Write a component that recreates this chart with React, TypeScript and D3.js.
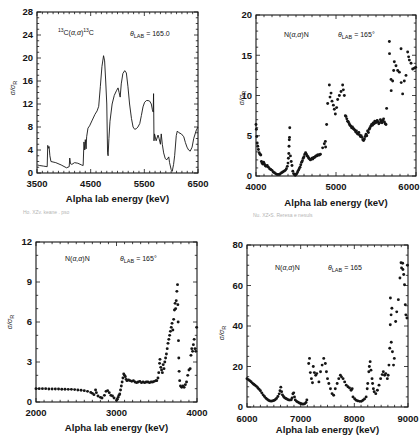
import React from "react";
import * as d3 from "d3";

// ---- Panel 1: 13C(a,a)13C, line ----
const c13Energy = [3510, 3550, 3620, 3690, 3700, 3715, 3725, 3740, 3760, 3850, 3950, 4050, 4100, 4110, 4125, 4150, 4200, 4260, 4330, 4360, 4375, 4390, 4400, 4415, 4425, 4450, 4480, 4530, 4580, 4620, 4650, 4680, 4710, 4740, 4760, 4780, 4800, 4815, 4825, 4840, 4860, 4900, 4940, 4980, 5010, 5030, 5050, 5070, 5100, 5135, 5165, 5195, 5225, 5260, 5290, 5320, 5350, 5380, 5415, 5445, 5475, 5505, 5540, 5570, 5600, 5630, 5650, 5665, 5672, 5680, 5690, 5720, 5755, 5775, 5800, 5815, 5835, 5860, 5890, 5920, 5955, 5970, 6000, 6020, 6045, 6065, 6095, 6115, 6145, 6190, 6235, 6265, 6295, 6325, 6355, 6390, 6420, 6470, 6500];
const c13Ratio = [1.4, 1.3, 1.2, 1.1, 4.8, 4.3, 4.6, 3.0, 2.0, 1.8, 1.4, 0.9, 1.1, 2.6, 1.6, 1.5, 1.8, 1.7, 1.4, 1.3, 5.4, 4.0, 5.8, 4.2, 6.3, 7.8, 8.2, 9.2, 10.2, 10.8, 11.6, 15.0, 18.5, 20.4, 19.5, 16.0, 12.0, 3.5, 3.0, 6.0, 9.0, 12.0, 13.5, 14.3, 14.8, 14.0, 13.2, 15.5, 17.3, 17.8, 17.4, 15.0, 12.0, 9.5, 8.0, 7.6, 7.7, 8.0, 8.6, 10.0, 11.5, 12.3, 12.6, 12.6, 12.5, 12.0, 11.0, 10.6, 13.8, 5.6, 6.8, 5.6, 6.6, 6.0, 5.0, 6.8, 5.0, 3.5, 2.5, 2.3, 2.8, 1.8, 0.6, 0.3, 1.5, 3.0, 6.5, 7.3, 7.0, 6.8, 6.3, 5.3, 4.5, 4.0, 3.8, 4.5, 6.0, 7.5, 8.0];

// ---- Panel 2: N(a,a)N 4000-6000 keV ----
const nHighEnergy = [4000, 4005, 4010, 4015, 4022, 4030, 4040, 4050, 4060, 4068, 4075, 4085, 4095, 4105, 4115, 4125, 4140, 4155, 4170, 4185, 4200, 4215, 4230, 4245, 4260, 4275, 4290, 4305, 4320, 4335, 4350, 4365, 4380, 4392, 4400, 4405, 4410, 4413, 4416, 4419, 4422, 4430, 4440, 4450, 4460, 4470, 4480, 4490, 4500, 4510, 4520, 4530, 4540, 4550, 4560, 4570, 4580, 4590, 4600, 4610, 4620, 4630, 4640, 4650, 4660, 4670, 4680, 4690, 4700, 4710, 4720, 4730, 4740, 4750, 4760, 4770, 4780, 4792, 4805, 4833, 4854, 4867, 4870, 4883, 4896, 4917, 4925, 4938, 4950, 4967, 4979, 4992, 5008, 5021, 5042, 5063, 5083, 5092, 5104, 5117, 5125, 5135, 5145, 5155, 5165, 5175, 5185, 5195, 5205, 5215, 5225, 5235, 5245, 5255, 5265, 5275, 5285, 5295, 5305, 5315, 5325, 5335, 5345, 5355, 5365, 5375, 5385, 5395, 5405, 5415, 5425, 5435, 5445, 5455, 5465, 5475, 5485, 5495, 5505, 5515, 5525, 5535, 5545, 5555, 5565, 5575, 5585, 5595, 5605, 5615, 5625, 5633, 5667, 5669, 5688, 5690, 5708, 5721, 5729, 5750, 5771, 5792, 5813, 5815, 5833, 5854, 5875, 5896, 5908, 5917, 5938, 5958, 5979, 5995];
const nHighRatio = [6.4, 5.8, 4.9, 4.1, 3.7, 3.3, 2.9, 2.7, 2.6, 1.8, 1.6, 1.5, 1.7, 1.5, 1.3, 1.2, 1.3, 1.1, 0.9, 0.8, 0.7, 0.5, 0.4, 0.3, 0.2, 0.2, 0.2, 0.3, 0.4, 0.5, 0.6, 0.7, 0.9, 1.2, 1.6, 2.2, 2.8, 3.7, 4.5, 4.8, 6.0, 2.5, 1.8, 1.3, 0.6, 0.3, 0.2, 0.1, 0.2, 0.3, 0.5, 0.7, 0.9, 1.1, 1.4, 1.7, 1.9, 2.2, 2.4, 2.7, 2.9, 2.7, 2.5, 2.4, 2.2, 2.1, 2.0, 2.1, 2.2, 2.1, 2.3, 2.3, 2.4, 2.5, 2.5, 2.6, 2.6, 2.6, 2.7, 3.5, 4.0, 4.3, 3.6, 6.4, 9.0, 11.3, 9.8, 10.3, 9.3, 8.8, 8.3, 7.7, 8.5, 9.5, 10.0, 10.5, 11.3, 10.7, 10.0, 7.5, 7.4, 7.1, 6.8, 6.7, 6.5, 6.3, 6.2, 6.0, 6.1, 5.9, 5.8, 5.7, 5.5, 5.6, 5.3, 5.2, 5.4, 5.1, 4.9, 5.0, 4.8, 4.5, 4.4, 4.6, 4.9, 5.2, 5.0, 5.6, 5.4, 5.8, 6.0, 6.2, 6.4, 6.3, 6.6, 6.5, 6.8, 6.6, 6.7, 6.9, 6.7, 6.5, 6.6, 7.0, 6.8, 6.6, 6.9, 7.1, 6.7, 6.5, 6.4, 8.4, 16.7, 15.2, 12.0, 10.6, 11.8, 13.1, 14.2, 13.7, 13.1, 12.9, 15.8, 11.6, 10.2, 11.8, 12.5, 15.4, 14.8, 14.4, 14.0, 13.3, 13.4, 13.5];

// ---- Panel 3: N(a,a)N 2000-4000 keV ----
const nLowEnergy = [2000, 2040, 2080, 2120, 2160, 2200, 2240, 2280, 2320, 2360, 2400, 2440, 2480, 2520, 2560, 2600, 2640, 2680, 2700, 2720, 2740, 2750, 2770, 2800, 2820, 2850, 2870, 2890, 2910, 2930, 2950, 2970, 3000, 3010, 3020, 3030, 3040, 3050, 3060, 3070, 3080, 3090, 3100, 3110, 3120, 3130, 3150, 3170, 3190, 3210, 3230, 3250, 3270, 3290, 3310, 3330, 3350, 3370, 3390, 3410, 3430, 3450, 3470, 3490, 3500, 3515, 3525, 3535, 3540, 3550, 3560, 3570, 3580, 3590, 3600, 3610, 3620, 3630, 3640, 3650, 3660, 3670, 3680, 3690, 3700, 3710, 3720, 3728, 3735, 3742, 3750, 3758, 3762, 3766, 3770, 3774, 3778, 3785, 3795, 3810, 3825, 3840, 3855, 3870, 3885, 3900, 3915, 3925, 3935, 3945, 3955, 3965, 3975, 3985, 3995];
const nLowRatio = [1.0, 1.0, 1.0, 1.0, 0.98, 0.98, 0.97, 0.97, 0.96, 0.96, 0.95, 0.95, 0.93, 0.9, 0.88, 0.85, 0.8, 0.72, 0.65, 0.55, 0.9, 0.7, 0.45, 0.35, 0.3, 0.5, 0.8, 0.85, 0.7, 0.5, 0.45, 0.3, 0.12, 0.2, 0.35, 0.5, 0.6, 0.9, 1.2, 1.5, 1.8, 2.1, 2.0, 1.9, 1.7, 1.6, 1.65, 1.6, 1.55, 1.6, 1.5, 1.45, 1.5, 1.55, 1.45, 1.5, 1.45, 1.5, 1.5, 1.45, 1.5, 1.5, 1.55, 1.6, 1.6, 1.8, 2.2, 2.9, 3.2, 2.6, 2.4, 2.2, 2.8, 2.5, 3.0, 3.3, 3.6, 4.0, 4.4, 4.7, 5.0, 5.3, 5.6, 5.9, 5.4, 6.2, 6.9, 7.4, 7.0, 7.6, 8.3, 8.8, 7.3, 6.0, 4.6, 3.3, 2.3, 1.6, 1.2, 1.1, 1.2, 1.1, 1.3, 1.5, 2.0, 2.4, 2.5, 3.5, 4.0, 3.8, 4.3, 4.7, 4.0, 3.8, 5.6];

// ---- Panel 4: N(a,a)N 6000-9000 keV ----
const nTopEnergy = [6000, 6025, 6050, 6075, 6100, 6125, 6150, 6175, 6200, 6225, 6250, 6275, 6300, 6325, 6350, 6375, 6400, 6425, 6450, 6475, 6500, 6525, 6550, 6575, 6600, 6615, 6630, 6645, 6660, 6680, 6700, 6725, 6750, 6775, 6800, 6825, 6840, 6855, 6870, 6885, 6900, 6925, 6950, 6975, 7000, 7025, 7050, 7075, 7100, 7115, 7150, 7165, 7180, 7200, 7220, 7235, 7255, 7280, 7300, 7340, 7370, 7400, 7430, 7460, 7480, 7500, 7525, 7555, 7585, 7615, 7645, 7680, 7710, 7740, 7760, 7790, 7820, 7850, 7880, 7910, 7940, 7960, 7975, 8005, 8035, 8065, 8100, 8130, 8160, 8190, 8220, 8240, 8250, 8270, 8280, 8295, 8310, 8330, 8340, 8355, 8370, 8400, 8430, 8460, 8490, 8520, 8540, 8565, 8585, 8615, 8630, 8645, 8660, 8670, 8685, 8700, 8672, 8688, 8710, 8730, 8745, 8770, 8790, 8820, 8850, 8880, 8870, 8905, 8900, 8920, 8935, 8950, 8960, 8980, 8990];
const nTopRatio = [14, 13.5, 13, 12.5, 11.8, 11.2, 10.8, 10.2, 9.5, 8.8, 8.0, 7.0, 6.0, 5.2, 4.4, 3.8, 3.3, 3.0, 2.9, 3.0, 3.2, 3.6, 4.2, 5.2, 6.5, 8.0, 9.8, 7.5, 6.0, 5.2, 4.6, 4.2, 3.8, 3.5, 3.4, 3.6, 4.5, 6.5, 7.0, 5.0, 3.5, 2.8, 2.4, 2.0, 1.7, 1.5, 1.4, 1.6, 2.2, 3.5, 21.5, 24, 17, 14, 12, 20, 17, 15.7, 16.5, 12.4, 17.4, 20.7, 24, 21.5, 17.4, 14, 11.6, 9, 6.6, 5.8, 9, 11.6, 14, 15.7, 14.9, 14, 12.4, 10.8, 10, 9.4, 8.3, 9, 5, 4.1, 3.3, 3.0, 2.8, 2.8, 3.3, 4, 5, 9, 11.6, 17.4, 20, 22.4, 18.2, 14, 11.6, 9, 7.5, 6.6, 8.3, 10.8, 14, 16, 17.4, 15.7, 16.5, 14, 15.7, 20.7, 29, 40.6, 45.5, 48.8, 53.8, 32, 27.3, 20.7, 24, 42.2, 47, 53, 63.7, 68.7, 71.2, 67.9, 71, 65.4, 60.4, 50.5, 45.5, 43.9, 70];

const p1XTicks = [3500, 4500, 5500, 6500];
const p1YTicks = [0, 4, 8, 12, 16, 20, 24, 28];
const p2XTicks = [4000, 5000, 6000];
const p2YTicks = [0, 5, 10, 15, 20];
const p3XTicks = [2000, 3000, 4000];
const p3YTicks = [0, 3, 6, 9, 12];
const p4XTicks = [6000, 7000, 8000, 9000];
const p4YTicks = [0, 20, 40, 60, 80];

const INK = "#151515";
const FONT = "'Liberation Sans', Arial, Helvetica, sans-serif";
const PAGE_W = 420;

type Box = { left: number; right: number; top: number; bottom: number };

function Reaction({ kind }: { kind: "C" | "N" }) {
  if (kind === "C") {
    return (
      <>
        <tspan fontSize={5} dy={-3}>13</tspan>
        <tspan dy={3}>C(</tspan>
        <tspan fontStyle="italic">α,α</tspan>
        <tspan>)</tspan>
        <tspan fontSize={5} dy={-3}>13</tspan>
        <tspan dy={3}>C</tspan>
      </>
    );
  }
  return (
    <>
      <tspan>N(</tspan>
      <tspan fontStyle="italic">α,α</tspan>
      <tspan>)N</tspan>
    </>
  );
}

function Panel(props: {
  box: Box;
  xDomain: [number, number];
  yDomain: [number, number];
  xTicks: number[];
  yTicks: number[];
  xMinorStep: number;
  yMinorStep: number;
  energy: number[];
  ratio: number[];
  mode: "line" | "dots";
  kind: "C" | "N";
  theta: string;
  reactionPos: [number, number];
  thetaPos: [number, number];
  yLabelPos: [number, number];
  tickGap: number;
  titleGap: number;
}) {
  const { box, xDomain, yDomain, xTicks, yTicks, xMinorStep, yMinorStep, energy, ratio, mode } = props;
  const x = d3.scaleLinear().domain(xDomain).range([box.left, box.right]);
  const y = d3.scaleLinear().domain(yDomain).range([box.bottom, box.top]);
  const pts = energy.map((e, i) => [e, ratio[i]] as [number, number]);
  const xMinor = d3.range(xDomain[0], xDomain[1] + 1e-6, xMinorStep);
  const yMinor = d3.range(yDomain[0], yDomain[1] + 1e-6, yMinorStep);
  const line = d3
    .line<[number, number]>()
    .x((d) => x(d[0]))
    .y((d) => y(d[1]));
  const cx = (box.left + box.right) / 2;
  return (
    <g>
      <rect x={box.left} y={box.top} width={box.right - box.left} height={box.bottom - box.top} fill="none" stroke={INK} strokeWidth={1.1} />
      {xMinor.map((v, i) => {
        const isMajor = xTicks.includes(v);
        const len = isMajor ? 4 : 2.2;
        return (
          <g key={"xm" + i} stroke={INK} strokeWidth={0.8}>
            <line x1={x(v)} x2={x(v)} y1={box.bottom} y2={box.bottom - len} />
            <line x1={x(v)} x2={x(v)} y1={box.top} y2={box.top + len} />
          </g>
        );
      })}
      {yMinor.map((v, i) => {
        const isMajor = yTicks.includes(v);
        const len = isMajor ? 4 : 2.2;
        return (
          <g key={"ym" + i} stroke={INK} strokeWidth={0.8}>
            <line x1={box.left} x2={box.left + len} y1={y(v)} y2={y(v)} />
            <line x1={box.right} x2={box.right - len} y1={y(v)} y2={y(v)} />
          </g>
        );
      })}
      {xTicks.map((v) => {
        const px = x(v);
        const fits = px + 11.5 <= PAGE_W;
        return (
          <text
            key={"xt" + v}
            x={fits ? px : PAGE_W - 0.5}
            y={box.bottom + props.tickGap}
            textAnchor={fits ? "middle" : "end"}
            fontFamily={FONT}
            fontWeight="bold"
            fontSize={9.5}
            fill={INK}
          >
            {v}
          </text>
        );
      })}
      {yTicks.map((v) => (
        <text key={"yt" + v} x={box.left - 4} y={y(v) + 3.4} textAnchor="end" fontFamily={FONT} fontWeight="bold" fontSize={9.5} fill={INK}>
          {v}
        </text>
      ))}
      <text x={cx} y={box.bottom + props.titleGap} textAnchor="middle" fontFamily={FONT} fontWeight="bold" fontSize={9.6} fill={INK}>
        Alpha lab energy (keV)
      </text>
      <text
        transform={`translate(${props.yLabelPos[0]},${props.yLabelPos[1]}) rotate(-90)`}
        textAnchor="middle"
        fontFamily={FONT}
        fontSize={7}
        fill={INK}
      >
        <tspan fontStyle="italic">σ/σ</tspan>
        <tspan fontSize={5.5} dy={1.5}>R</tspan>
      </text>
      <text x={props.reactionPos[0]} y={props.reactionPos[1]} fontFamily={FONT} fontSize={7} fill={INK}>
        <Reaction kind={props.kind} />
      </text>
      <text x={props.thetaPos[0]} y={props.thetaPos[1]} fontFamily={FONT} fontSize={7} fill={INK}>
        <tspan fontStyle="italic">θ</tspan>
        <tspan fontSize={5.5} dy={1.5}>LAB</tspan>
        <tspan dy={-1.5}>{" = " + props.theta}</tspan>
      </text>
      <g>
        {mode === "line" ? (
          <path d={line(pts) || ""} fill="none" stroke={INK} strokeWidth={0.9} strokeLinejoin="round" />
        ) : (
          pts.map((d, i) => <circle key={i} cx={x(d[0])} cy={y(d[1])} r={1.45} fill={INK} />)
        )}
      </g>
    </g>
  );
}

export default function App() {
  return (
    <svg
      width={420}
      height={435}
      viewBox="0 0 420 435"
      style={{ position: "absolute", left: 0, top: 0, background: "#fff" }}
    >
      <rect x={0} y={0} width={420} height={435} fill="#fff" />
      <Panel
        box={{ left: 37, right: 198, top: 12, bottom: 173 }}
        xDomain={[3500, 6500]}
        yDomain={[0, 28]}
        xTicks={p1XTicks}
        yTicks={p1YTicks}
        xMinorStep={100}
        yMinorStep={1}
        energy={c13Energy}
        ratio={c13Ratio}
        mode="line"
        kind="C"
        theta="165.0"
        reactionPos={[58, 35]}
        thetaPos={[130, 36]}
        yLabelPos={[15, 88]}
        tickGap={14}
        titleGap={29}
      />
      <Panel
        box={{ left: 256, right: 416, top: 15, bottom: 176 }}
        xDomain={[4000, 6000]}
        yDomain={[0, 20]}
        xTicks={p2XTicks}
        yTicks={p2YTicks}
        xMinorStep={100}
        yMinorStep={1}
        energy={nHighEnergy}
        ratio={nHighRatio}
        mode="dots"
        kind="N"
        theta="165°"
        reactionPos={[284, 37]}
        thetaPos={[338, 37]}
        yLabelPos={[244, 98]}
        tickGap={14}
        titleGap={30}
      />
      <Panel
        box={{ left: 36, right: 197, top: 242, bottom: 402 }}
        xDomain={[2000, 4000]}
        yDomain={[0, 12]}
        xTicks={p3XTicks}
        yTicks={p3YTicks}
        xMinorStep={100}
        yMinorStep={1}
        energy={nLowEnergy}
        ratio={nLowRatio}
        mode="dots"
        kind="N"
        theta="165°"
        reactionPos={[65, 261]}
        thetaPos={[120, 261]}
        yLabelPos={[12, 322]}
        tickGap={14}
        titleGap={29}
      />
      <Panel
        box={{ left: 247, right: 408, top: 245, bottom: 407 }}
        xDomain={[6000, 9000]}
        yDomain={[0, 80]}
        xTicks={p4XTicks}
        yTicks={p4YTicks}
        xMinorStep={125}
        yMinorStep={5}
        energy={nTopEnergy}
        ratio={nTopRatio}
        mode="dots"
        kind="N"
        theta="165"
        reactionPos={[275, 270]}
        thetaPos={[328, 270]}
        yLabelPos={[224, 333]}
        tickGap={15}
        titleGap={25.5}
      />
      <text x={23} y={214} fontFamily={FONT} fontSize={5} fill="#b5b5b5">
        Ho. XZv. keane . pso
      </text>
      <text x={253} y={217} fontFamily={FONT} fontSize={5} fill="#b5b5b5">
        Nu. XZ•S. Reresa e nesuls
      </text>
    </svg>
  );
}
